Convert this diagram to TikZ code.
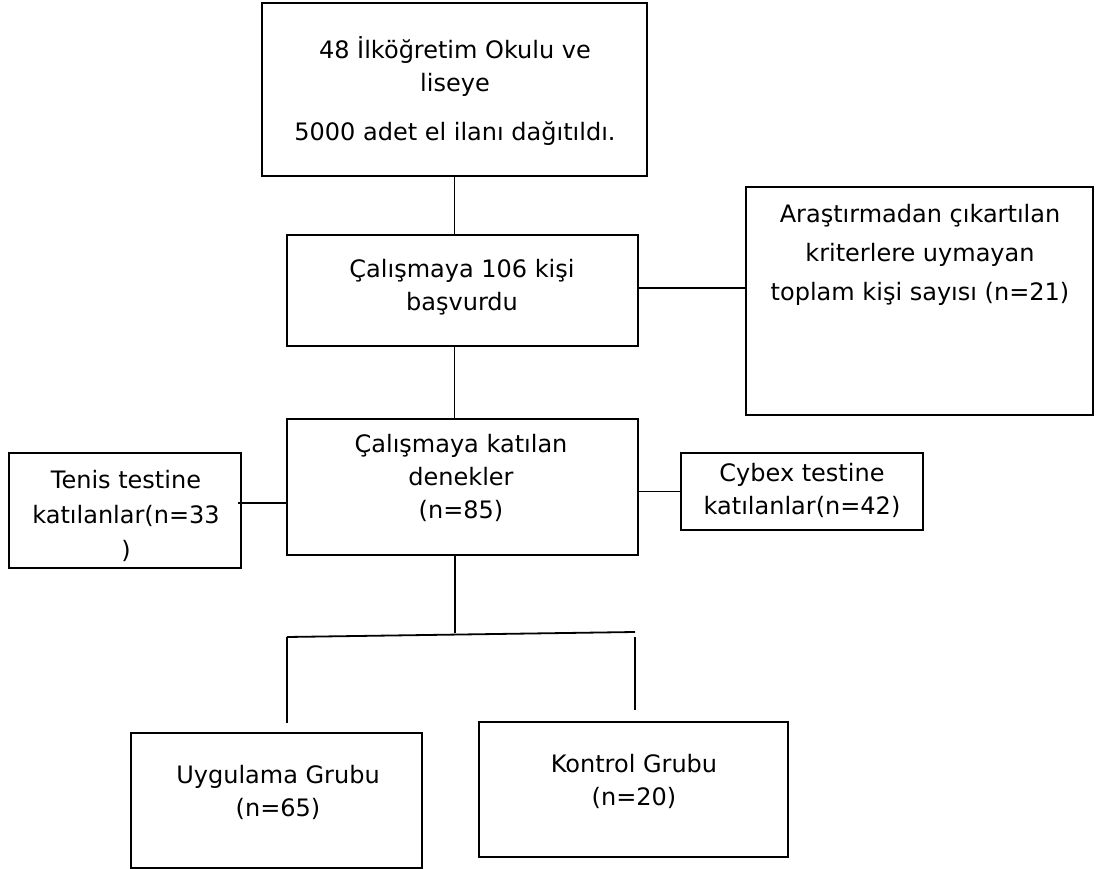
\documentclass[tikz,border=0pt]{standalone}
\usepackage{fontspec}
\setmainfont{DejaVu Sans}

\begin{document}
\begin{tikzpicture}[x=1pt,y=-1pt,line width=1.8pt,
        kutu/.style = {draw,
            rectangle,
            inner sep=0pt
        },
        yazi/.style = {align=center,
            inner sep=0pt,
            font=\fontsize{24}{33}\selectfont
        }]

    \useasboundingbox (0,0) rectangle (1096,869);

    % Top box
    \node [kutu, minimum width=385pt, minimum height=173pt] (ilan) at (454.5,89.5){};
    \node [yazi] (ilanyazi) at (455,91) {48 İlköğretim Okulu ve\\liseye\\[16pt]5000 adet el ilanı dağıtıldı.};

    % Applicants
    \node [kutu, minimum width=351pt, minimum height=111pt] (basvuru) at (462.5,290.5){};
    \node [yazi] (basvuruyazi) at (462,287) {Çalışmaya 106 kişi\\başvurdu};

    % Excluded
    \node [kutu, minimum width=347pt, minimum height=228pt] (elenen) at (919.5,301){};
    \node [yazi, font=\fontsize{24}{39}\selectfont] (elenenyazi) at (920,255) {Araştırmadan çıkartılan\\kriterlere uymayan\\toplam kişi sayısı (n=21)};

    % Participants
    \node [kutu, minimum width=351pt, minimum height=136pt] (denek) at (462.5,487){};
    \node [yazi] (denekyazi) at (461,478) {Çalışmaya katılan\\denekler\\(n=85)};

    % Tennis test
    \node [kutu, minimum width=232pt, minimum height=115pt] (tenis) at (125,510.5){};
    \node [yazi, font=\fontsize{24}{35}\selectfont] (tenisyazi) at (126,516) {Tenis testine\\katılanlar(n=33\\)};

    % Cybex test
    \node [kutu, minimum width=242pt, minimum height=77pt] (cybex) at (802,491.5){};
    \node [yazi] (cybexyazi) at (802,490) {Cybex testine\\katılanlar(n=42)};

    % Groups
    \node [kutu, minimum width=291pt, minimum height=135pt] (uygulama) at (276.5,800.5){};
    \node [yazi] (uygulamayazi) at (278,792) {Uygulama Grubu\\(n=65)};
    \node [kutu, minimum width=309pt, minimum height=135pt] (kontrol) at (633.5,789.5){};
    \node [yazi] (kontrolyazi) at (634,781) {Kontrol Grubu\\(n=20)};

    % Connectors
    \draw (ilan.south) -- (ilan.south |- basvuru.north);
    \draw (basvuru.east |- 0,288) -- (elenen.west |- 0,288);
    \draw (basvuru.south -| ilan.south) -- (denek.north -| ilan.south);
    \coordinate (tenisucu) at (238,503);
    \draw (tenisucu) -- (tenisucu -| denek.west);
    \draw (cybex.west -| denek.east) -- (cybex.west);

    % Branches
    \coordinate (dal) at (455,633);
    \coordinate (dalsol) at (287,637);
    \coordinate (dalsag) at (635,632);
    \coordinate (solucu) at (287,723);
    \coordinate (sagbas) at (635,637);
    \coordinate (sagucu) at (635,710);
    \draw (denek.south -| dal) -- (dal);
    \draw (dalsol) -- (dalsag);
    \draw (dalsol) -- (solucu);
    \draw (sagbas) -- (sagucu);

\end{tikzpicture}
\end{document}
